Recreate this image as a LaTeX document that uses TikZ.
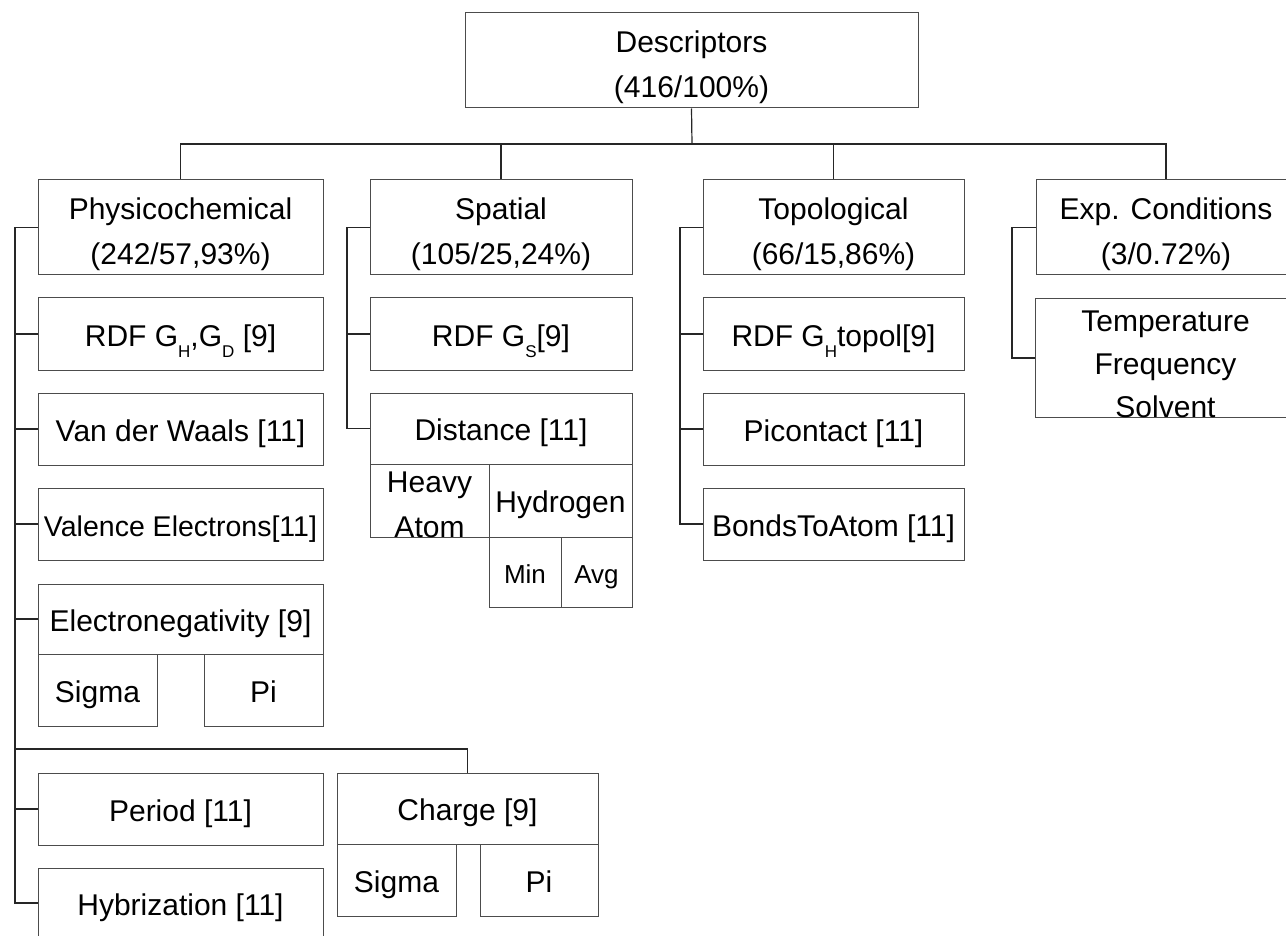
\documentclass[tikz,border=0pt]{standalone}
\usepackage{fontspec}
\setmainfont{Liberation Sans}
\newcommand\sbs[1]{\raisebox{-11pt}{\fontsize{17}{17}\selectfont #1}}
% single-line box: text in the node
\newcommand\mybox[6]{\node[box, minimum width={(#4-#2)*1pt}, minimum height={(#5-#3)*1pt}] (#1) at ({(#2+#4)/2},{(#3+#5)/2}) {#6};}
% multi-line box: empty frame plus a text node shifted down
\newcommand\mymbox[7]{\node[box, minimum width={(#4-#2)*1pt}, minimum height={(#5-#3)*1pt}] (#1) at ({(#2+#4)/2},{(#3+#5)/2}) {};
  \node[lbl] (#1t) at ([yshift=#6]#1.center) {#7};}
\begin{document}
\begin{tikzpicture}[x=1pt,y=-1pt,
  box/.style={draw=black!70, line width=1pt, inner sep=0pt, align=center, text height=24pt, text depth=0pt, font=\fontsize{30}{45}\selectfont},
  lbl/.style={inner sep=0pt, align=center, font=\fontsize{30}{45}\selectfont},
  conn/.style={draw=black!85, line width=1.2pt}]
\useasboundingbox (0,0) rectangle (1286,936);
\clip (0,0) rectangle (1286,936);
% top
\mymbox{desc}{465}{13}{918}{108}{-7pt}{Descriptors\\(416/100\%)}
\mymbox{phys}{38}{180}{323}{275}{-7pt}{Physicochemical\\(242/57,93\%)}
\mymbox{spat}{370}{180}{632}{275}{-7pt}{Spatial\\(105/25,24\%)}
\mymbox{topo}{703}{180}{964}{275}{-7pt}{Topological\\(66/15,86\%)}
\mymbox{exp}{1036}{180}{1296}{275}{-7pt}{Exp. Conditions\\(3/0.72\%)}
% physicochemical
\mybox{rdfp}{38}{298}{323}{370}{RDF G\sbs{H},G\sbs{D} [9]}
\mybox{vdw}{38}{393}{323}{465}{Van der Waals [11]}
\mybox{val}{38}{488}{323}{560}{\fontsize{28.5}{40}\selectfont Valence Electrons[11]}
\mybox{eneg}{38}{584}{323}{654}{Electronegativity [9]}
\mybox{esig}{38}{654}{157}{726}{Sigma}
\mybox{epi}{204}{654}{323}{726}{Pi}
\mybox{per}{38}{773}{323}{845}{Period [11]}
\mybox{hyb}{38}{868}{323}{938}{Hybrization [11]}
\mybox{chg}{337}{773}{598}{844}{Charge [9]}
\mybox{csig}{337}{844}{456}{916}{Sigma}
\mybox{cpi}{480}{844}{598}{916}{Pi}
% spatial
\mybox{rdfs}{370}{298}{632}{370}{RDF G\sbs{S}[9]}
\mybox{dist}{370}{393}{632}{464}{Distance [11]}
\mymbox{heavy}{370}{464}{489}{537}{-4pt}{Heavy\\Atom}
\mybox{hydro}{489}{464}{632}{537}{Hydrogen}
\node[box, text height=22pt, minimum width=72pt, minimum height=70pt, font=\fontsize{26}{26}\selectfont] (min) at (525,572) {Min};
\node[box, text height=22pt, minimum width=71pt, minimum height=70pt, font=\fontsize{26}{26}\selectfont] (avg) at (596.5,572) {Avg};
% topological
\mybox{rdft}{703}{298}{964}{370}{RDF G\sbs{H}topol[9]}
\mybox{pic}{703}{393}{964}{465}{Picontact [11]}
\mybox{bta}{703}{488}{964}{560}{BondsToAtom [11]}
% exp conditions
\node[box, minimum width=261pt, minimum height=118pt] (cond) at (1165.5,358) {};
\node[lbl, font=\fontsize{30}{43}\selectfont] (condt) at ([yshift=-6pt]cond.center) {Temperature\\Frequency\\Solvent};
% connectors
\coordinate (bus) at (692,144);
\draw[conn] (desc.south) -- (bus);
\draw[conn] (phys.north) |- (bus) -| (exp.north);
\draw[conn] (spat.north) -- (spat.north |- bus);
\draw[conn] (topo.north) -- (topo.north |- bus);
\coordinate (ps) at (15,0);
\draw[conn] (phys.west) -| (ps |- hyb.west) -- (hyb.west);
\foreach \n in {rdfp,vdw,val,eneg,per} \draw[conn] (\n.west) -- (ps |- \n.west);
\coordinate (cb) at (15,749);
\draw[conn] (cb) -| (chg.north);
\coordinate (ss) at (347,0);
\draw[conn] (spat.west) -| (ss |- dist.west) -- (dist.west);
\draw[conn] (rdfs.west) -- (ss |- rdfs.west);
\coordinate (ts) at (680,0);
\draw[conn] (topo.west) -| (ts |- bta.west) -- (bta.west);
\foreach \n in {rdft,pic} \draw[conn] (\n.west) -- (ts |- \n.west);
\coordinate (es) at (1012,0);
\draw[conn] (exp.west) -| (es |- cond.west) -- (cond.west);
\end{tikzpicture}
\end{document}
